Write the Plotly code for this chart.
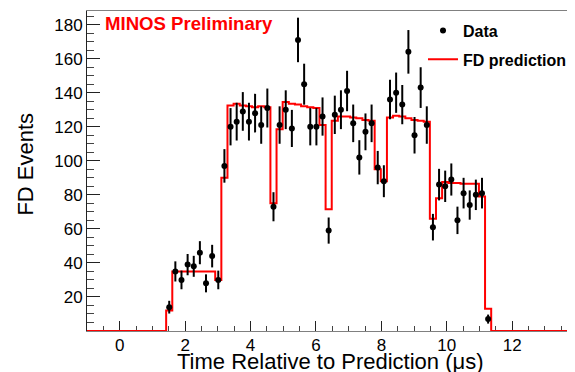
import numpy as np
import plotly.graph_objects as go

# ---- data ----
bin_low_edge = 1.42      # microseconds, lower edge of first filled bin
bin_width = 0.1875       # microseconds
x_axis_range = [-1.0, 13.92]
y_axis_range = [0.0, 188.0]

data_events = [14, 35, 30, 39, 38, 46, 28, 44, 30, 97,
               120, 123, 129, 123, 128, 121, 131, 73, 121, 130,
               119, 171, 145, 120, 120, 126, 59, 127, 130, 141,
               122, 102, 117, 122, 96, 88, 136, 140, 133, 164,
               115, 143, 121, 61, 86, 85, 89, 65, 81, 74,
               80, 81, 7]

fd_prediction = [12, 35, 35, 35, 35, 35, 35, 35, 30, 90,
                 132.5, 133.5, 132.5, 132, 131.5, 132, 131.5, 75, 118.5, 134.5,
                 133.5, 133, 132, 131.5, 131, 121, 71.5, 123.5, 126, 126,
                 125.5, 125, 124, 123.5, 95, 88, 125.5, 126.5, 126, 125,
                 124, 123.5, 123, 66, 78, 87.5, 87, 87, 86.5, 86.5,
                 86.5, 79, 13]

x_ticks = [0, 2, 4, 6, 8, 10, 12]
y_ticks = [20, 40, 60, 80, 100, 120, 140, 160, 180]

# ---- derived binning ----
n_bins = len(data_events)
edges = bin_low_edge + bin_width * np.arange(n_bins + 1)
centers = 0.5 * (edges[:-1] + edges[1:])
errors = np.sqrt(np.array(data_events, dtype=float))

step_x = [x_axis_range[0]] + list(edges) + [x_axis_range[1]]
step_y = [0] + list(fd_prediction) + [0, 0]

FONT = "Liberation Sans, Arial, Helvetica, sans-serif"

fig = go.Figure()

fig.add_trace(go.Scatter(
    x=step_x, y=step_y, mode="lines", line_shape="hv",
    line=dict(color="#ff0000", width=2),
    name="FD prediction", legendrank=2, legendgroup="b",
    hoverinfo="skip",
))

fig.add_trace(go.Scatter(
    x=centers, y=data_events, mode="markers",
    marker=dict(color="black", size=6, symbol="circle"),
    error_y=dict(type="data", array=errors, visible=True,
                 color="black", thickness=2, width=0),
    name="Data", legendrank=1, legendgroup="a",
))

fig.add_annotation(
    text="<b>MINOS Preliminary</b>", xref="paper", yref="paper",
    x=0.033, y=0.962, xanchor="left", yanchor="middle", showarrow=False,
    font=dict(family=FONT, size=18.6, color="#ff0000"),
)

# axis titles
fig.add_annotation(
    text="Time Relative to Prediction (μs)", xref="paper", yref="paper",
    x=0.498, y=-0.094, xanchor="center", yanchor="middle", showarrow=False,
    font=dict(family=FONT, size=22, color="black"),
)
fig.add_annotation(
    text="FD Events", xref="paper", yref="paper", textangle=-90,
    x=-0.125, y=0.52, xanchor="center", yanchor="middle", showarrow=False,
    font=dict(family=FONT, size=22, color="black"),
)

# The page body has an 8px offset; the figure is sized so the plot area
# lands at x 87..575, y 11..331 of the 575x372 window.
fig.update_layout(
    width=567, height=364,
    margin=dict(l=79, r=0, t=3, b=41, pad=0),
    paper_bgcolor="white", plot_bgcolor="white",
    font=dict(family=FONT, color="black"),
    showlegend=True,
    legend=dict(
        x=0.6885, y=0.992, xanchor="left", yanchor="top",
        bgcolor="rgba(0,0,0,0)", borderwidth=0,
        font=dict(family=FONT, size=16, color="black", weight="bold"),
        traceorder="grouped", tracegroupgap=5, itemwidth=30,
    ),
    xaxis=dict(
        range=x_axis_range, tickmode="array", tickvals=x_ticks,
        ticktext=[str(v) for v in x_ticks],
        ticks="inside", ticklen=10, tickwidth=1, tickcolor="#222",
        minor=dict(dtick=0.5, tick0=0, ticks="inside", ticklen=5,
                   tickcolor="#444", tickwidth=1),
        showline=True, linecolor="#808080", linewidth=1, mirror=True,
        showgrid=False, zeroline=False, layer="below traces",
        tickfont=dict(family=FONT, size=17, color="black"),
        ticklabelstandoff=-1,
        automargin=False,
    ),
    yaxis=dict(
        range=y_axis_range, tickmode="array", tickvals=y_ticks,
        ticktext=[str(v) for v in y_ticks],
        ticks="inside", ticklen=13, tickwidth=1, tickcolor="#222",
        minor=dict(dtick=5, tick0=0, ticks="inside", ticklen=7,
                   tickcolor="#444", tickwidth=1),
        showline=True, linecolor="#222", linewidth=1, mirror=False,
        showgrid=False, zeroline=False, layer="below traces",
        tickfont=dict(family=FONT, size=17, color="black"),
        automargin=False,
    ),
)

fig.write_html("out.html")
